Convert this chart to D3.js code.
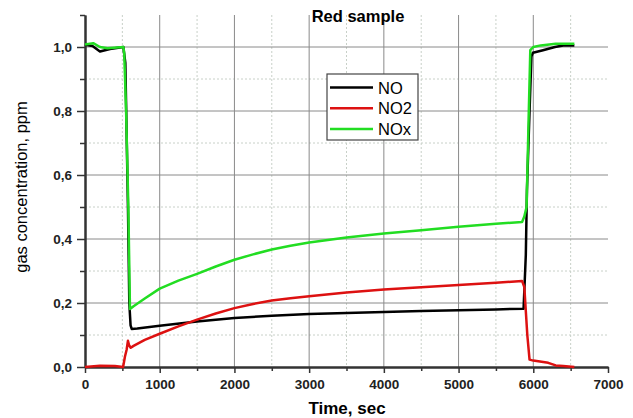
<!DOCTYPE html>
<html>
<head>
<meta charset="utf-8">
<script src="https://cdn.jsdelivr.net/npm/d3@7"></script>
<style>
    body { margin: 0; background: #fff; font-family: 'Liberation Sans', Arial, sans-serif; }
    .tick-label { font-size: 13.5px; font-weight: bold; fill: #222; }
    .grid-major { stroke: #8a8a8a; stroke-width: 1; }
    .grid-minor { stroke: #c8d0c8; stroke-width: 1; stroke-dasharray: 2,2; }
    .series { fill: none; stroke-width: 2.5; stroke-linejoin: round; }
</style>
</head>
<body>
<div id="chart"></div>
<script>
// time (sec), concentration (ppm)
const noData = [
    [0, 1.007], [100, 1.003], [200, 0.986], [335, 0.994], [513, 1.0], [540, 0.95],
    [575, 0.5], [593, 0.2], [610, 0.13], [625, 0.119], [700, 0.12], [1000, 0.129],
    [1500, 0.142], [2000, 0.153], [2500, 0.16], [3000, 0.166], [3500, 0.169],
    [4000, 0.172], [4500, 0.175], [5000, 0.177], [5500, 0.18], [5870, 0.182],
    [5900, 0.35], [5915, 0.55], [5950, 0.8], [5975, 0.97], [5995, 0.982],
    [6130, 0.99], [6290, 1.0], [6400, 1.005], [6550, 1.005]
];
const no2Data = [
    [0, 0.0], [200, 0.004], [400, 0.003], [510, 0.0], [535, 0.033], [557, 0.054],
    [575, 0.082], [590, 0.068], [612, 0.06], [650, 0.066], [800, 0.085],
    [1000, 0.104], [1250, 0.127], [1500, 0.148], [1750, 0.167], [2000, 0.184],
    [2250, 0.197], [2500, 0.208], [2750, 0.215], [3000, 0.221], [3500, 0.233],
    [4000, 0.242], [4500, 0.249], [5000, 0.256], [5500, 0.263], [5850, 0.269],
    [5880, 0.25], [5920, 0.1], [5950, 0.023], [6000, 0.02], [6200, 0.013],
    [6300, 0.005], [6400, 0.003], [6550, 0.0]
];
const noxData = [
    [0, 1.008], [110, 1.012], [200, 1.0], [300, 0.996], [513, 1.0], [525, 0.98],
    [550, 0.8], [580, 0.5], [602, 0.181], [650, 0.19], [800, 0.214], [1000, 0.245],
    [1250, 0.27], [1500, 0.291], [1750, 0.314], [2000, 0.335], [2250, 0.352],
    [2500, 0.367], [2750, 0.379], [3000, 0.389], [3500, 0.405], [4000, 0.417],
    [4500, 0.427], [5000, 0.438], [5500, 0.448], [5850, 0.453], [5880, 0.47],
    [5910, 0.5], [5940, 0.8], [5960, 0.99], [6000, 1.0], [6100, 1.005],
    [6300, 1.01], [6550, 1.01]
];

const seriesNames = ['NO', 'NO2', 'NOx'];
const seriesColors = ['#000000', '#dd1111', '#22dd22'];
const xTicks = [0, 1000, 2000, 3000, 4000, 5000, 6000, 7000];
const yTicks = [0, 0.2, 0.4, 0.6, 0.8, 1.0];

class LineChart {
    constructor(config, series) {
        this.config = {
            parentElement: config.parentElement,
            width: config.width || 633,
            height: config.height || 418,
            margin: config.margin || { top: 15, right: 25, bottom: 51, left: 85 }
        };
        this.series = series;
        this.initVis();
    }

    initVis() {
        let vis = this;

        vis.width = vis.config.width - vis.config.margin.left - vis.config.margin.right;
        vis.height = vis.config.height - vis.config.margin.top - vis.config.margin.bottom;

        vis.svg = d3.select(vis.config.parentElement)
            .append('svg')
            .attr('width', vis.config.width)
            .attr('height', vis.config.height);

        vis.chart = vis.svg.append('g')
            .attr('transform', `translate(${vis.config.margin.left},${vis.config.margin.top})`);

        vis.xScale = d3.scaleLinear().domain([0, 7000]).range([0, vis.width]);
        vis.yScale = d3.scaleLinear().domain([0, 1.1]).range([vis.height, 0]);

        const xMinor = d3.range(500, 7000, 1000);
        const yMinor = [0.1, 0.3, 0.5, 0.7, 0.9, 1.1];

        // minor grid (dotted)
        vis.chart.append('g').selectAll('line')
            .data(xMinor)
            .join('line')
            .attr('class', 'grid-minor')
            .attr('x1', d => vis.xScale(d)).attr('x2', d => vis.xScale(d))
            .attr('y1', 0).attr('y2', vis.height);
        vis.chart.append('g').selectAll('line')
            .data(yMinor.slice(0, -1))
            .join('line')
            .attr('class', 'grid-minor')
            .attr('x1', 0).attr('x2', vis.width)
            .attr('y1', d => vis.yScale(d)).attr('y2', d => vis.yScale(d));

        // major grid
        vis.chart.append('g').selectAll('line')
            .data(xTicks.slice(1, -1))
            .join('line')
            .attr('class', 'grid-major')
            .attr('x1', d => vis.xScale(d)).attr('x2', d => vis.xScale(d))
            .attr('y1', 0).attr('y2', vis.height);
        vis.chart.append('g').selectAll('line')
            .data(yTicks.slice(1))
            .join('line')
            .attr('class', 'grid-major')
            .attr('x1', 0).attr('x2', vis.width)
            .attr('y1', d => vis.yScale(d)).attr('y2', d => vis.yScale(d));

        // axes
        const fmt = d => d3.format('.1f')(d).replace('.', ',');

        vis.xAxis = d3.axisBottom(vis.xScale).tickValues(xTicks).tickSize(6).tickSizeOuter(0).tickPadding(6).tickFormat(d3.format('d'));
        vis.xAxisMinor = d3.axisBottom(vis.xScale).tickValues(xMinor).tickSize(4).tickSizeOuter(0).tickFormat('');
        vis.yAxis = d3.axisLeft(vis.yScale).tickValues(yTicks).tickSize(8).tickSizeOuter(0).tickPadding(5).tickFormat(fmt);
        vis.yAxisMinor = d3.axisLeft(vis.yScale).tickValues(yMinor).tickSize(5).tickSizeOuter(0).tickFormat('');

        [vis.xAxis, vis.xAxisMinor].forEach(ax => {
            vis.chart.append('g')
                .attr('transform', `translate(0,${vis.height})`)
                .call(ax)
                .call(g => g.select('.domain').attr('stroke', '#333').attr('stroke-width', 2))
                .call(g => g.selectAll('.tick line').attr('stroke', '#333').attr('stroke-width', 1.5))
                .call(g => g.selectAll('.tick text').attr('class', 'tick-label'));
        });
        [vis.yAxis, vis.yAxisMinor].forEach(ax => {
            vis.chart.append('g')
                .call(ax)
                .call(g => g.select('.domain').attr('stroke', '#333').attr('stroke-width', 2))
                .call(g => g.selectAll('.tick line').attr('stroke', '#333').attr('stroke-width', 1.5))
                .call(g => g.selectAll('.tick text').attr('class', 'tick-label'));
        });

        vis.svg.append('text')
            .attr('x', 358)
            .attr('y', 22)
            .attr('text-anchor', 'middle')
            .style('font-size', '16.5px')
            .style('font-weight', 'bold')
            .text('Red sample');

        vis.svg.append('text')
            .attr('x', 347)
            .attr('y', 414)
            .attr('text-anchor', 'middle')
            .style('font-size', '17px')
            .style('font-weight', 'bold')
            .text('Time, sec');

        vis.svg.append('text')
            .attr('transform', 'rotate(-90)')
            .attr('x', -187)
            .attr('y', 27)
            .attr('text-anchor', 'middle')
            .style('font-size', '16.5px')
            .text('gas concentration, ppm');

        vis.updateVis();
        vis.drawLegend();
    }

    updateVis() {
        let vis = this;

        const line = d3.line()
            .x(d => vis.xScale(d[0]))
            .y(d => vis.yScale(d[1]));

        vis.chart.selectAll('.series')
            .data(vis.series)
            .join('path')
            .attr('class', 'series')
            .attr('stroke', (d, i) => seriesColors[i])
            .attr('d', d => line(d));
    }

    drawLegend() {
        let vis = this;

        const legend = vis.svg.append('g')
            .attr('transform', 'translate(327,74)');

        legend.append('rect')
            .attr('width', 91)
            .attr('height', 66)
            .attr('fill', '#fff')
            .attr('stroke', '#444')
            .attr('stroke-width', 1.2);

        const item = legend.selectAll('.item')
            .data(seriesNames)
            .join('g')
            .attr('class', 'item')
            .attr('transform', (d, i) => `translate(0,${13.5 + i * 20.8})`);

        item.append('line')
            .attr('x1', 3).attr('x2', 46)
            .attr('stroke', (d, i) => seriesColors[i])
            .attr('stroke-width', 2.5);

        item.append('text')
            .attr('x', 51)
            .attr('y', 6)
            .style('font-size', '16.5px')
            .text(d => d);
    }
}

new LineChart({ parentElement: '#chart' }, [noData, no2Data, noxData]);
</script>
</body>
</html>
